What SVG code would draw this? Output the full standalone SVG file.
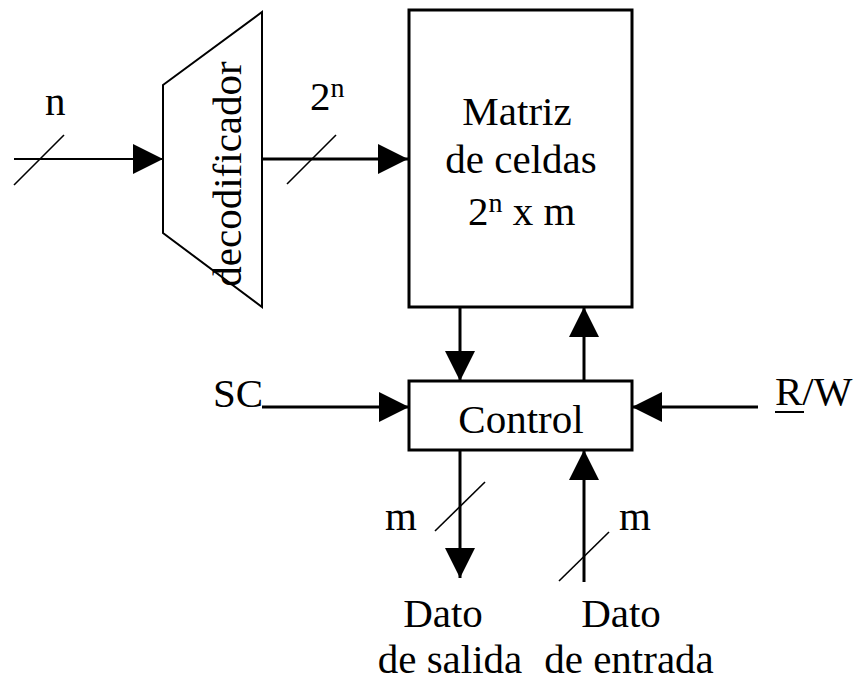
<svg xmlns="http://www.w3.org/2000/svg" width="857" height="684" viewBox="0 0 857 684">
<style>
text{font-family:"Liberation Serif","Times New Roman",serif;font-size:41px;fill:#000}
.box{fill:#fff;stroke:#000;stroke-width:3}
.w{stroke:#000;stroke-width:3;fill:none}
.t{stroke:#000;stroke-width:2;fill:none}
.s{stroke:#000;stroke-width:1.6;fill:none}
.sup{font-size:28px}
</style>
<defs>
<marker id="ah" viewBox="0 0 30 30" refX="30" refY="15" markerWidth="30" markerHeight="30" markerUnits="userSpaceOnUse" orient="auto">
<path d="M0,0 L30,15 L0,30 Z" fill="#000"/>
</marker>
</defs>
<rect width="857" height="684" fill="#fff"/>
<g id="connectors">
<line class="t" x1="14" y1="159" x2="163" y2="159" marker-end="url(#ah)"/>
<line class="s" x1="14" y1="185" x2="64" y2="135"/>
<line class="w" x1="262" y1="159" x2="408" y2="159" marker-end="url(#ah)"/>
<line class="s" x1="287" y1="184" x2="336" y2="135"/>
<line class="w" x1="460" y1="307" x2="460" y2="381" marker-end="url(#ah)"/>
<line class="w" x1="584" y1="381" x2="584" y2="307" marker-end="url(#ah)"/>
<line class="w" x1="262" y1="407" x2="409" y2="407" marker-end="url(#ah)"/>
<line class="w" x1="758" y1="407" x2="632" y2="407" marker-end="url(#ah)"/>
<line class="w" x1="460" y1="450" x2="460" y2="578" marker-end="url(#ah)"/>
<line class="s" x1="435" y1="531" x2="485" y2="482"/>
<line class="w" x1="584" y1="582" x2="584" y2="450" marker-end="url(#ah)"/>
<line class="s" x1="559" y1="581" x2="609" y2="532"/>
</g>
<g id="decoder">
<path class="t" d="M163,85 L262,12 L262,307 L163,233 Z" fill="#fff"/>
<text transform="translate(241,174) rotate(-90)" text-anchor="middle">decodificador</text>
</g>
<g id="matrix">
<rect class="box" x="409" y="10" width="223" height="297"/>
<text x="517" y="125" text-anchor="middle">Matriz</text>
<text x="521" y="173" text-anchor="middle">de celdas</text>
<text x="468" y="225">2<tspan class="sup" dy="-13">n</tspan><tspan dy="13"> x m</tspan></text>
</g>
<g id="control">
<rect class="box" x="409" y="381" width="223" height="69"/>
<text x="521" y="433" text-anchor="middle">Control</text>
</g>
<g id="labels">
<text x="45" y="115">n</text>
<text x="310" y="110">2<tspan class="sup" dy="-13">n</tspan></text>
<text x="213" y="407">SC</text>
<text x="775" y="405">R/W</text>
<line x1="775" y1="412" x2="804" y2="412" stroke="#000" stroke-width="2"/>
<text x="385" y="530">m</text>
<text x="619" y="530">m</text>
<text x="443" y="627" text-anchor="middle">Dato</text>
<text x="450" y="673" text-anchor="middle">de salida</text>
<text x="621" y="627" text-anchor="middle">Dato</text>
<text x="629" y="673" text-anchor="middle">de entrada</text>
</g>
</svg>
